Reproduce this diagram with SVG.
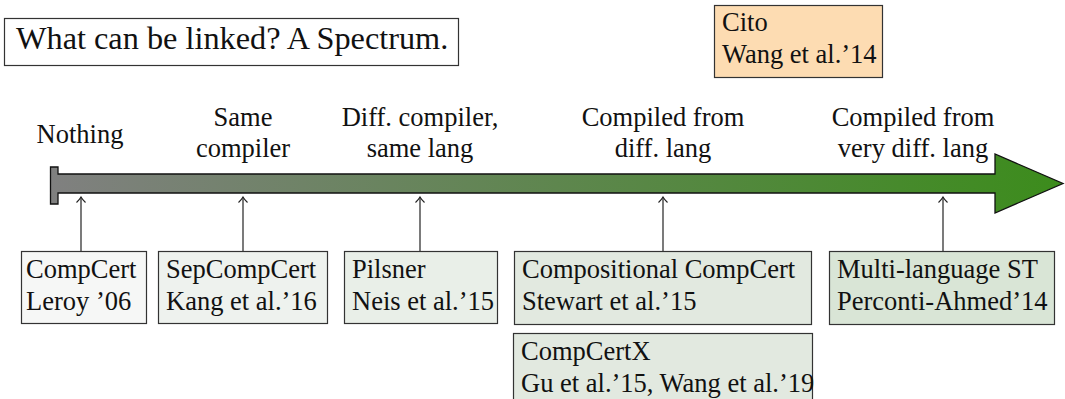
<svg xmlns="http://www.w3.org/2000/svg" width="1065" height="399" viewBox="0 0 1065 399">
<style>
text{font-size:26.5px;fill:#111}
.box{stroke:#333;stroke-width:1.2}
.conn{stroke:#222;stroke-width:1.2;fill:none}
.lbl{text-anchor:middle}
</style>
<defs>
<linearGradient id="grad" gradientUnits="userSpaceOnUse" x1="50" y1="0" x2="1063" y2="0">
<stop offset="0" stop-color="#808080"/>
<stop offset="1" stop-color="#3c8c1c"/>
</linearGradient>
<marker id="ah" markerWidth="12" markerHeight="12" refX="0" refY="0" viewBox="-6 -6 12 12" orient="auto" markerUnits="userSpaceOnUse">
<path d="M -5.5 -4.5 Q -2 -1 0 0 Q -2 1 -5.5 4.5" fill="none" stroke="#222" stroke-width="1.1"/>
</marker>
</defs>
<g font-family="'Liberation Serif', 'Times New Roman', Times, serif">

<g id="title">
<rect class="box" x="4.5" y="18.5" width="454" height="47" fill="#fff" stroke-width="1"/>
<text x="16" y="49" style="font-size:32.3px">What can be linked? A Spectrum.</text>
</g>

<g id="cito">
<rect class="box" x="714.5" y="5.5" width="168" height="72" fill="#fddcb2"/>
<text x="722" y="31">Cito</text>
<text x="722" y="63">Wang et al.’14</text>
</g>

<g id="spectrum-arrow">
<path d="M 50.5 167 L 58 167 L 58 174 L 995 174 L 995 154 L 1063 183.5 L 995 213 L 995 193 L 58 193 L 58 204 L 50.5 204 Z" fill="url(#grad)" stroke="#111" stroke-width="1.3" stroke-linejoin="miter"/>
</g>

<g id="labels">
<text class="lbl" x="80" y="143">Nothing</text>
<text class="lbl" x="243" y="126">Same</text>
<text class="lbl" x="243" y="157">compiler</text>
<text class="lbl" x="420" y="126">Diff. compiler,</text>
<text class="lbl" x="420" y="157">same lang</text>
<text class="lbl" x="663" y="126">Compiled from</text>
<text class="lbl" x="663" y="157">diff. lang</text>
<text class="lbl" x="913" y="126">Compiled from</text>
<text class="lbl" x="913" y="157">very diff. lang</text>
</g>

<g id="connectors">
<line class="conn" x1="81" y1="251" x2="81" y2="197" marker-end="url(#ah)"/>
<line class="conn" x1="243" y1="251" x2="243" y2="197" marker-end="url(#ah)"/>
<line class="conn" x1="420" y1="251" x2="420" y2="197" marker-end="url(#ah)"/>
<line class="conn" x1="663" y1="251" x2="663" y2="197" marker-end="url(#ah)"/>
<line class="conn" x1="943" y1="251" x2="943" y2="197" marker-end="url(#ah)"/>
</g>

<g id="compcert">
<rect class="box" x="21.5" y="251.5" width="125" height="72" fill="#f6f7f6"/>
<text x="26" y="278">CompCert</text>
<text x="26" y="310">Leroy ’06</text>
</g>

<g id="sepcompcert">
<rect class="box" x="158.5" y="251.5" width="169" height="72" fill="#eef2ee"/>
<text x="166" y="278">SepCompCert</text>
<text x="166" y="310">Kang et al.’16</text>
</g>

<g id="pilsner">
<rect class="box" x="344.5" y="251.5" width="153" height="72" fill="#e9efe8"/>
<text x="352" y="278">Pilsner</text>
<text x="352" y="310">Neis et al.’15</text>
</g>

<g id="compositional">
<rect class="box" x="514.5" y="251.5" width="297" height="73" fill="#e2e9e0"/>
<text x="522" y="278">Compositional CompCert</text>
<text x="522" y="310">Stewart et al.’15</text>
</g>

<g id="compcertx">
<rect class="box" x="513.5" y="333.5" width="299" height="70" fill="#e2e9e0"/>
<text x="521" y="360">CompCertX</text>
<text x="521" y="392">Gu et al.’15, Wang et al.’19</text>
</g>

<g id="multilang">
<rect class="box" x="829.5" y="251.5" width="225" height="73" fill="#d9e5d6"/>
<text x="837" y="278">Multi-language ST</text>
<text x="837" y="310">Perconti-Ahmed’14</text>
</g>
</g>
</svg>
